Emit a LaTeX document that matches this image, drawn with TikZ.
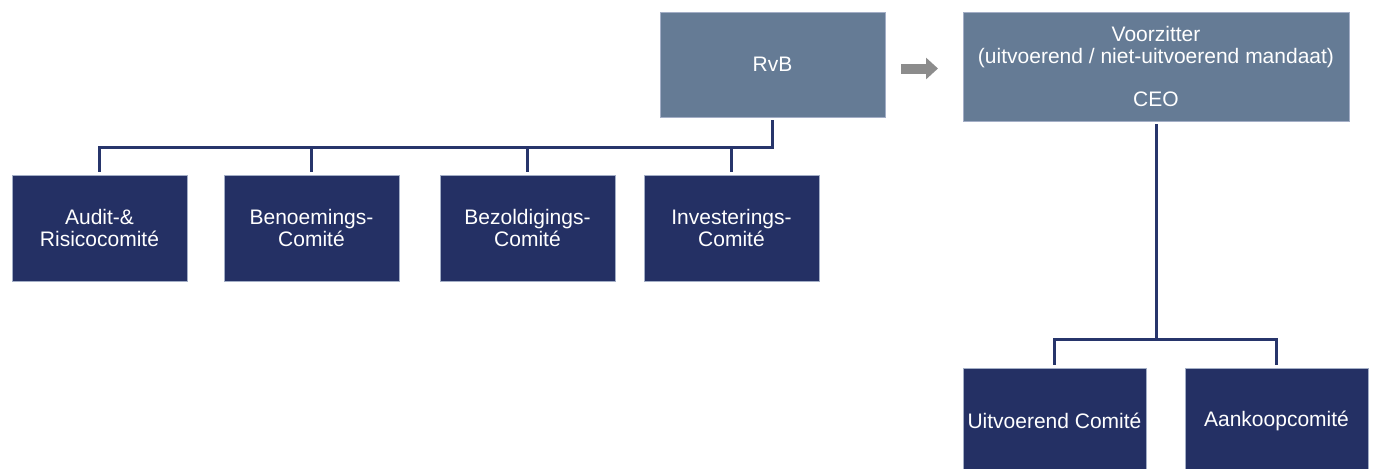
\documentclass[tikz,border=0pt]{standalone}
\usepackage{fontspec}
\setmainfont{Liberation Sans}
\usetikzlibrary{arrows.meta,calc,positioning}
\definecolor{slate}{HTML}{657B95}
\definecolor{navy}{HTML}{243064}
\definecolor{navyline}{HTML}{27356B}
\definecolor{arrgray}{HTML}{8C8C8C}
\definecolor{edge}{HTML}{A3AEC6}
\tikzset{
  boardbox/.style={draw=edge,fill=slate,line width=0.4pt,text=white,align=center,inner sep=1pt,font=\fontsize{10.5}{10.8}\selectfont},
  combox/.style={draw=edge,fill=navy,line width=0.4pt,text=white,align=center,inner sep=1pt,font=\fontsize{10.5}{10.8}\selectfont,minimum height=53pt},
  orgline/.style={draw=navyline,line width=1.5pt,shorten <=1.5pt,shorten >=1.5pt},
  blockarr/.style={draw=arrgray,line width=5pt,-{Triangle[length=6pt,width=10.5pt]}}
}
\begin{document}
\begin{tikzpicture}[x=0.5pt,y=-0.5pt]
  \useasboundingbox (0,0) rectangle (1373,468);
  \node[boardbox,minimum width=112.5pt,minimum height=52.5pt] (rvb) at (772.5,64.5) {RvB};
  \node[boardbox,minimum width=193pt,minimum height=54.5pt] (vz) at (1156,66.5)
    {Voorzitter\\(uitvoerend / niet-uitvoerend mandaat)\\[10.8pt]CEO};

  \node[combox,minimum width=87.5pt] (audit) at (99.5,228) {Audit-\&\\Risicocomit\'e};
  \node[combox,minimum width=87.5pt] (benoem) at (311.5,228) {Benoemings-\\Comit\'e};
  \node[combox,minimum width=87.5pt] (bezold) at (527.5,228) {Bezoldigings-\\Comit\'e};
  \node[combox,minimum width=87.5pt] (invest) at (731.5,228) {Investerings-\\Comit\'e};

  \node[combox,minimum width=91.5pt] (uitv) at (1054.5,421) {Uitvoerend Comit\'e};
  \node[combox,minimum width=91.5pt] (aank) at (1276.5,421) {Aankoopcomit\'e};

  \coordinate (arrs) at (901,68.5);
  \coordinate (arre) at (938,68.5);
  \draw[blockarr] (arrs) -- (arre);

  \foreach \c in {audit,benoem,bezold,invest}
    \draw[orgline] (rvb.south) -- ++(0,30) -| (\c.north);
  \foreach \c in {uitv,aank}
    \draw[orgline] (vz.south) -- ++(0,218) -| (\c.north);
\end{tikzpicture}
\end{document}
